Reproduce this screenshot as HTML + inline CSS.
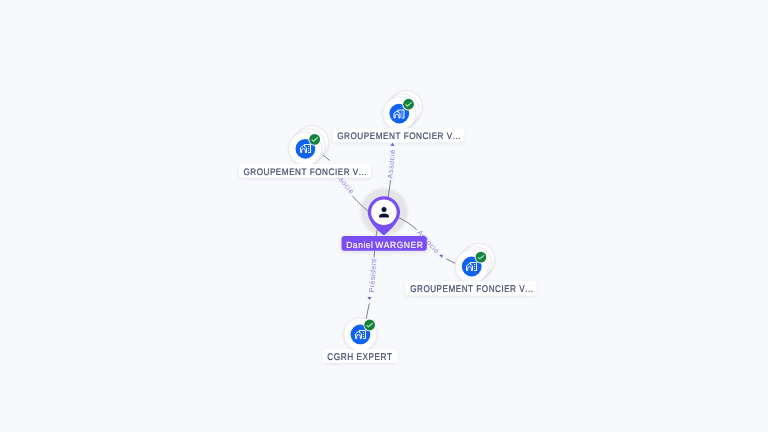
<!DOCTYPE html>
<html><head><meta charset="utf-8"><style>
html,body{margin:0;padding:0;width:768px;height:432px;overflow:hidden;background:#f8f9fc;font-family:"Liberation Sans",sans-serif;}
</style></head><body>
<svg width="768" height="432" viewBox="0 0 768 432" style="position:absolute;left:0;top:0;will-change:transform;text-rendering:geometricPrecision;font-kerning:none"><defs><filter id="sh" x="-50%" y="-50%" width="200%" height="200%"><feDropShadow dx="0" dy="0.5" stdDeviation="1" flood-color="#000" flood-opacity="0.12"/></filter><filter id="lsh" x="-20%" y="-50%" width="140%" height="200%"><feDropShadow dx="0" dy="1" stdDeviation="1.4" flood-color="#1a2040" flood-opacity="0.09"/></filter><filter id="hb" x="-20%" y="-20%" width="140%" height="140%"><feGaussianBlur stdDeviation="1.1"/></filter><filter id="psh" x="-20%" y="-60%" width="140%" height="240%"><feDropShadow dx="0" dy="1.5" stdDeviation="2" flood-color="#7650ee" flood-opacity="0.18"/></filter></defs><circle cx="384.2" cy="211.7" r="23.6" fill="#e5e5e8" filter="url(#hb)"/><path d="M387.9 199 L390.6 180" fill="none" stroke="#5f636e" stroke-width="0.8"/><path d="M320 152.8 L329.8 160.4" fill="none" stroke="#5f636e" stroke-width="0.8"/><path d="M352.3 195.7 Q357 201.5 369 212" fill="none" stroke="#5f636e" stroke-width="0.8"/><path d="M396 216.9 Q406.5 220.3 416.8 229.8" fill="none" stroke="#5f636e" stroke-width="0.8"/><path d="M446.2 258.9 L458 264.7" fill="none" stroke="#5f636e" stroke-width="0.8"/><path d="M379 222 L376 236" fill="none" stroke="#5f636e" stroke-width="0.8"/><path d="M374.6 250.5 L374 257.6" fill="none" stroke="#5f636e" stroke-width="0.8"/><path d="M369.3 303.2 L365.5 322" fill="none" stroke="#5f636e" stroke-width="0.8"/><text x="-14.229" y="1.928" font-family="Liberation Sans" font-size="7.3" letter-spacing="0.535" fill="#6b5bd6" transform="translate(391.700,164.300) rotate(-84)" fill-opacity="0.78">Associé</text><text x="-14.229" y="1.928" font-family="Liberation Sans" font-size="7.3" letter-spacing="0.535" fill="#6b5bd6" transform="translate(342.800,181.800) rotate(51)" fill-opacity="0.78">Associé</text><text x="-14.229" y="1.928" font-family="Liberation Sans" font-size="7.3" letter-spacing="0.535" fill="#6b5bd6" transform="translate(427.700,241.900) rotate(48)" fill-opacity="0.78">Associé</text><text x="-17.261" y="1.928" font-family="Liberation Sans" font-size="7.3" letter-spacing="0.392" fill="#6b5bd6" transform="translate(373.200,275.400) rotate(-86)" fill-opacity="0.78">Président</text><path d="M-2.1 1.3 L2.1 1.3 L0 -1.7 Z" fill="#6b5bd6" transform="translate(392.5,144.5) rotate(3)"/><path d="M-2.1 1.3 L2.1 1.3 L0 -1.7 Z" fill="#6b5bd6" transform="translate(441.6,255.6) rotate(45)"/><path d="M-2.1 1.3 L2.1 1.3 L0 -1.7 Z" fill="#6b5bd6" transform="translate(369.5,298.4) rotate(180)"/><circle cx="405.90" cy="107.20" r="16.5" fill="#fff" stroke="#e0e1e4" stroke-width="0.6" filter="url(#sh)"/><circle cx="402.60" cy="110.40" r="16.5" fill="#fff" stroke="#e0e1e4" stroke-width="0.6" filter="url(#sh)"/><circle cx="399.30" cy="113.60" r="16.5" fill="#fff" stroke="#e0e1e4" stroke-width="0.6" filter="url(#sh)"/><circle cx="399.3" cy="113.6" r="9.9" fill="#0f62f2"/><g transform="translate(398.5,113.5)" fill="none" stroke="#fff" stroke-width="1" stroke-linejoin="round" stroke-linecap="butt"><path d="M-0.5 -1.2 L-0.5 -3.5 L5.5 -3.5 L5.5 4.5 L3 4.5"/><path d="M-4.5 4.5 L-4.5 -0.1 L-1.5 -2.6 L1.5 -0.1 L1.5 4.5 L0.3 4.5 L0.3 2.4 A1.8 1.8 0 0 0 -3.3 2.4 L-3.3 4.5 Z"/></g><g transform="translate(398.5,113.5)" fill="#fff"><rect x="3" y="-2" width="1" height="1"/><rect x="3" y="0" width="1" height="1"/><rect x="3" y="2" width="1" height="1"/></g><circle cx="408.55" cy="104.20" r="6.3" fill="#fff"/><circle cx="408.55" cy="104.20" r="5.4" fill="#17803f"/><path d="M405.95 104.70 L407.35 106.00 L411.35 102.60" fill="none" stroke="#a8ecbc" stroke-width="1.15" stroke-linecap="round" stroke-linejoin="round"/><circle cx="312.00" cy="142.40" r="16.5" fill="#fff" stroke="#e0e1e4" stroke-width="0.6" filter="url(#sh)"/><circle cx="308.70" cy="145.60" r="16.5" fill="#fff" stroke="#e0e1e4" stroke-width="0.6" filter="url(#sh)"/><circle cx="305.40" cy="148.80" r="16.5" fill="#fff" stroke="#e0e1e4" stroke-width="0.6" filter="url(#sh)"/><circle cx="305.4" cy="148.8" r="9.9" fill="#0f62f2"/><g transform="translate(305,148)" fill="none" stroke="#fff" stroke-width="1" stroke-linejoin="round" stroke-linecap="butt"><path d="M-0.5 -1.2 L-0.5 -3.5 L5.5 -3.5 L5.5 4.5 L3 4.5"/><path d="M-4.5 4.5 L-4.5 -0.1 L-1.5 -2.6 L1.5 -0.1 L1.5 4.5 L0.3 4.5 L0.3 2.4 A1.8 1.8 0 0 0 -3.3 2.4 L-3.3 4.5 Z"/></g><g transform="translate(305,148)" fill="#fff"><rect x="3" y="-2" width="1" height="1"/><rect x="3" y="0" width="1" height="1"/><rect x="3" y="2" width="1" height="1"/></g><circle cx="314.65" cy="139.40" r="6.3" fill="#fff"/><circle cx="314.65" cy="139.40" r="5.4" fill="#17803f"/><path d="M312.05 139.90 L313.45 141.20 L317.45 137.80" fill="none" stroke="#a8ecbc" stroke-width="1.15" stroke-linecap="round" stroke-linejoin="round"/><circle cx="478.30" cy="260.10" r="16.5" fill="#fff" stroke="#e0e1e4" stroke-width="0.6" filter="url(#sh)"/><circle cx="475.00" cy="263.30" r="16.5" fill="#fff" stroke="#e0e1e4" stroke-width="0.6" filter="url(#sh)"/><circle cx="471.70" cy="266.50" r="16.5" fill="#fff" stroke="#e0e1e4" stroke-width="0.6" filter="url(#sh)"/><circle cx="471.7" cy="266.5" r="9.9" fill="#0f62f2"/><g transform="translate(471,266)" fill="none" stroke="#fff" stroke-width="1" stroke-linejoin="round" stroke-linecap="butt"><path d="M-0.5 -1.2 L-0.5 -3.5 L5.5 -3.5 L5.5 4.5 L3 4.5"/><path d="M-4.5 4.5 L-4.5 -0.1 L-1.5 -2.6 L1.5 -0.1 L1.5 4.5 L0.3 4.5 L0.3 2.4 A1.8 1.8 0 0 0 -3.3 2.4 L-3.3 4.5 Z"/></g><g transform="translate(471,266)" fill="#fff"><rect x="3" y="-2" width="1" height="1"/><rect x="3" y="0" width="1" height="1"/><rect x="3" y="2" width="1" height="1"/></g><circle cx="480.95" cy="257.10" r="6.3" fill="#fff"/><circle cx="480.95" cy="257.10" r="5.4" fill="#17803f"/><path d="M478.35 257.60 L479.75 258.90 L483.75 255.50" fill="none" stroke="#a8ecbc" stroke-width="1.15" stroke-linecap="round" stroke-linejoin="round"/><circle cx="360.40" cy="334.40" r="16.5" fill="#fff" stroke="#e0e1e4" stroke-width="0.6" filter="url(#sh)"/><circle cx="360.4" cy="334.4" r="9.9" fill="#0f62f2"/><g transform="translate(360,334)" fill="none" stroke="#fff" stroke-width="1" stroke-linejoin="round" stroke-linecap="butt"><path d="M-0.5 -1.2 L-0.5 -3.5 L5.5 -3.5 L5.5 4.5 L3 4.5"/><path d="M-4.5 4.5 L-4.5 -0.1 L-1.5 -2.6 L1.5 -0.1 L1.5 4.5 L0.3 4.5 L0.3 2.4 A1.8 1.8 0 0 0 -3.3 2.4 L-3.3 4.5 Z"/></g><g transform="translate(360,334)" fill="#fff"><rect x="3" y="-2" width="1" height="1"/><rect x="3" y="0" width="1" height="1"/><rect x="3" y="2" width="1" height="1"/></g><circle cx="369.65" cy="325.00" r="6.3" fill="#fff"/><circle cx="369.65" cy="325.00" r="5.4" fill="#17803f"/><path d="M367.05 325.50 L368.45 326.80 L372.45 323.40" fill="none" stroke="#a8ecbc" stroke-width="1.15" stroke-linecap="round" stroke-linejoin="round"/><rect x="333.2" y="128.4" width="131.3" height="13.9" rx="3" fill="#fff" filter="url(#lsh)"/><rect x="239.2" y="164.1" width="131.8" height="13.6" rx="3" fill="#fff" filter="url(#lsh)"/><rect x="405.5" y="281.3" width="131.1" height="14.1" rx="3" fill="#fff" filter="url(#lsh)"/><rect x="322.9" y="349.4" width="74.6" height="13.6" rx="3" fill="#fff" filter="url(#lsh)"/><text x="0" y="0" font-family="Liberation Sans" font-size="9.448" letter-spacing="0.600" fill="#3e476c" stroke="#3e476c" stroke-width="0.200" stroke-linejoin="round" transform="matrix(0.86496 0 0 1 337.189 139.000)" >GROUPEMENT FONCIER V...</text><text x="0" y="0" font-family="Liberation Sans" font-size="9.448" letter-spacing="0.600" fill="#3e476c" stroke="#3e476c" stroke-width="0.200" stroke-linejoin="round" transform="matrix(0.86354 0 0 1 243.390 174.900)" >GROUPEMENT FONCIER V...</text><text x="0" y="0" font-family="Liberation Sans" font-size="9.739" letter-spacing="0.618" fill="#3e476c" stroke="#3e476c" stroke-width="0.200" stroke-linejoin="round" transform="matrix(0.83571 0 0 1 410.191 291.900)" >GROUPEMENT FONCIER V...</text><text x="0" y="0" font-family="Liberation Sans" font-size="9.739" letter-spacing="0.618" fill="#3e476c" stroke="#3e476c" stroke-width="0.200" stroke-linejoin="round" transform="matrix(0.84689 0 0 1 327.281 360.000)" >CGRH EXPERT</text><path d="M367.75 212.3 A16.15 16.15 0 1 1 400.04999999999995 212.3 C400.04999999999995 221.8 388.9 231.3 385.09999999999997 234.5 Q383.9 235.5 382.7 234.5 C378.9 231.3 367.75 221.8 367.75 212.3 Z" fill="#7950f3"/><circle cx="383.9" cy="212.3" r="12.75" fill="#fff"/><circle cx="384" cy="209.6" r="2.5" fill="#0d1738"/><path d="M379 217.5 L379 216.3 Q379.5 213.6 384 213.6 Q388.5 213.6 389 216.3 L389 217.5 Z" fill="#0d1738"/><rect x="341.5" y="236" width="85.3" height="14.8" rx="3" fill="#7950f3" filter="url(#psh)"/><text x="0" y="0" font-family="Liberation Sans" font-size="9.157" letter-spacing="0.581" word-spacing="-1.163" fill="#fff8ff" stroke="#fff8ff" stroke-width="0.180" stroke-linejoin="round" transform="matrix(0.92835 0 0 1 346.203 247.500)" >Daniel WARGNER</text></svg>
</body></html>
